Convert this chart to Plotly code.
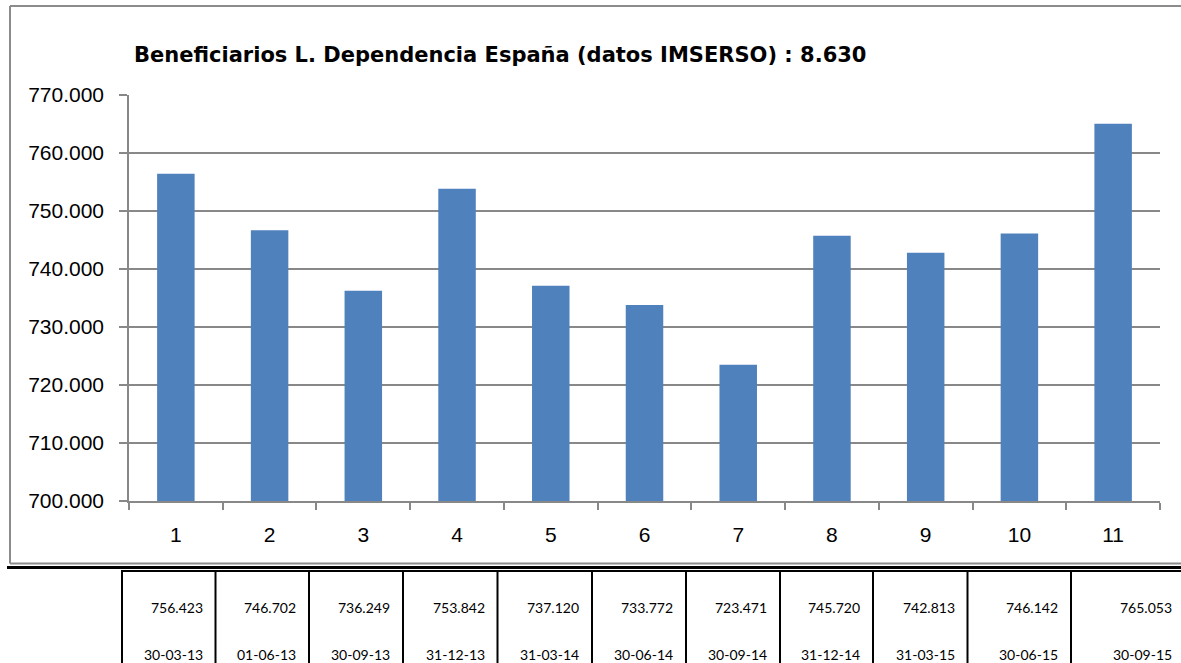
import plotly.graph_objects as go

# ---- data ----
categories = [str(i) for i in range(1, 12)]
values = [756423, 746702, 736249, 753842, 737120, 733772, 723471, 745720, 742813, 746142, 765053]
dates = ["30-03-13", "01-06-13", "30-09-13", "31-12-13", "31-03-14", "30-06-14",
         "30-09-14", "31-12-14", "31-03-15", "30-06-15", "30-09-15"]
title_text = "Beneficiarios L. Dependencia España (datos IMSERSO) : 8.630"
y_ticks = [700000, 710000, 720000, 730000, 740000, 750000, 760000, 770000]

# ---- layout constants (pixels) ----
W, H = 1181, 663
PX0, PX1 = 129, 1160      # plot area x
PY0, PY1 = 95, 501        # plot area y (top, bottom)
cell_edges = [122, 215.5, 309, 403, 497.5, 592, 686, 780, 873, 967.5, 1071, 1190]

def fx(px):
    return px / W

def fy(py):
    return 1 - py / H

GRID = "#888888"
BAR = "#4F81BD"
BORDER = "#8c8c8c"

fig = go.Figure()
fig.add_trace(go.Bar(x=categories, y=values, marker=dict(color=BAR, line=dict(width=0)),
                     hoverinfo="x+y", cliponaxis=True))

shapes = []
# outer chart border: top, left, bottom (right edge lies off-canvas)
for (x0, y0, x1, y1) in [(10, 6, 1181, 6), (10, 6, 10, 563.5), (10, 563.5, 1181, 563.5)]:
    shapes.append(dict(type="line", xref="paper", yref="paper", x0=fx(x0), x1=fx(x1),
                       y0=fy(y0), y1=fy(y1), line=dict(color=BORDER, width=2), layer="above"))
# double line above table
shapes.append(dict(type="line", xref="paper", yref="paper", x0=fx(7), x1=fx(1181),
                   y0=fy(567.5), y1=fy(567.5), line=dict(color="black", width=3)))
shapes.append(dict(type="line", xref="paper", yref="paper", x0=fx(121), x1=fx(1181),
                   y0=fy(571), y1=fy(571), line=dict(color="black", width=2)))
# table vertical lines
for e in cell_edges[:-1]:
    shapes.append(dict(type="line", xref="paper", yref="paper", x0=fx(e), x1=fx(e),
                       y0=fy(571), y1=fy(663), line=dict(color="black", width=2)))

annotations = []
annotations.append(dict(text="<b>" + title_text + "</b>", xref="paper", yref="paper",
                        x=fx(132), y=fy(55), xanchor="left", yanchor="middle", showarrow=False,
                        font=dict(family="DejaVu Sans", size=21, color="black")))
for i, (v, d) in enumerate(zip(values, dates)):
    right = min(cell_edges[i + 1], 1185) - 11
    label = f"{v:,}".replace(",", ".")
    annotations.append(dict(text=label, xref="paper", yref="paper", x=fx(right), y=fy(607),
                            xanchor="right", yanchor="middle", showarrow=False,
                            font=dict(family="Lato", size=14, color="black")))
    annotations.append(dict(text=d, xref="paper", yref="paper", x=fx(right), y=fy(654),
                            xanchor="right", yanchor="middle", showarrow=False,
                            font=dict(family="Lato", size=14, color="black")))

fig.update_layout(
    width=W, height=H,
    margin=dict(l=0, r=0, t=0, b=0, autoexpand=False),
    paper_bgcolor="white", plot_bgcolor="white",
    separators=",.",
    showlegend=False,
    bargap=0.6,
    shapes=shapes,
    annotations=annotations,
    xaxis=dict(type="category", domain=[fx(PX0), fx(PX1)], tickson="boundaries",
               ticks="outside", ticklen=7, tickcolor=GRID, tickwidth=1.5,
               showline=True, linecolor=GRID, linewidth=1.5, showgrid=False,
               automargin=False, mirror=False,
               tickfont=dict(family="Liberation Sans", size=21, color="black"),
               ticklabelstandoff=14),
    yaxis=dict(domain=[fy(PY1), fy(PY0)], range=[700000, 770000], tickvals=y_ticks,
               tickformat=",d", ticks="outside", ticklen=8, tickcolor=GRID, tickwidth=1.5,
               showline=True, linecolor=GRID, linewidth=1.5, automargin=False, mirror=False,
               showgrid=True, gridcolor=GRID, gridwidth=1.5, zeroline=False,
               tickfont=dict(family="Liberation Sans", size=21, color="black"),
               ticklabelstandoff=11),
)

fig.write_html("out.html", config={"responsive": False, "displayModeBar": False},
               post_script="document.documentElement.style.overflow='hidden';document.body.style.margin='0';document.body.style.overflow='hidden';")
